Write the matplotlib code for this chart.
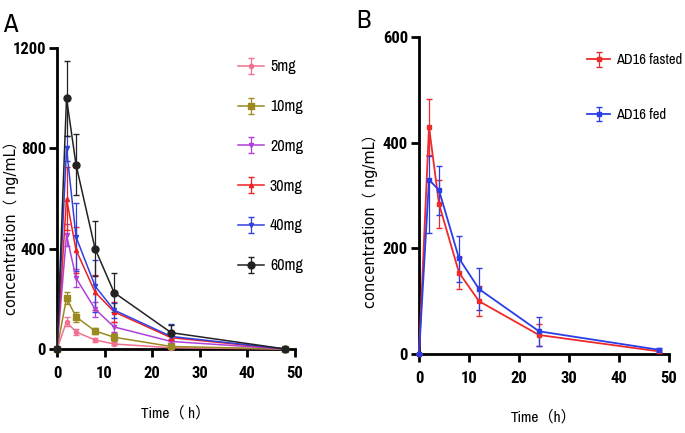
import numpy as np
import matplotlib.pyplot as plt

# time points (h)
t = [0, 2, 4, 8, 12, 24, 48]

# panel A: dose groups, mean / sd (ng/mL)
doses = ["5mg", "10mg", "20mg", "30mg", "40mg", "60mg"]
mean_5 = [0, 108, 68, 36, 20, 5, 0]
sd_5 = [0, 18, 12, 8, 6, 3, 0]
mean_10 = [0, 203, 128, 72, 47, 10, 0]
sd_10 = [0, 25, 20, 12, 15, 4, 0]
mean_20 = [0, 455, 283, 159, 88, 30, 0]
sd_20 = [0, 45, 37, 30, 20, 8, 0]
mean_30 = [0, 600, 395, 227, 148, 45, 0]
sd_30 = [0, 125, 90, 70, 40, 12, 0]
mean_40 = [0, 800, 447, 251, 155, 50, 0]
sd_40 = [0, 50, 135, 105, 30, 50, 0]
mean_60 = [0, 1000, 735, 400, 225, 65, 0]
sd_60 = [0, 150, 122, 110, 78, 30, 0]

# panel B: fasted vs fed
cond = ["AD16 fasted", "AD16 fed"]
mean_fasted = [0, 430, 284, 154, 100, 36, 5]
sd_fasted = [0, 53, 46, 30, 28, 20, 3]
mean_fed = [0, 330, 310, 181, 123, 43, 8]
err_fed_lo = [0, 100, 46, 44, 40, 27, 4]
err_fed_hi = [0, 45, 46, 43, 40, 27, 4]

NARROW = ["Roboto Condensed", "DejaVu Sans"]
LEG = ["Archivo Narrow", "Roboto Condensed", "DejaVu Sans"]
XLAB = ["Archivo Narrow", "Noto Sans CJK SC", "DejaVu Sans"]
YLAB = ["DejaVu Sans", "Noto Sans CJK SC"]

fig = plt.figure(figsize=(6.85, 4.33), dpi=100)
axA = fig.add_axes([0.0832, 0.194, 0.3474, 0.695])
axB = fig.add_axes([0.6117, 0.1824, 0.365, 0.732])


def style(ax, ymax, ystep):
    for s in ["top", "right"]:
        ax.spines[s].set_visible(False)
    for s in ["left", "bottom"]:
        ax.spines[s].set_linewidth(2)
    ax.set_xlim(0, 50)
    ax.set_ylim(0, ymax)
    ax.set_xticks(range(0, 51, 10))
    ax.set_yticks(range(0, ymax + 1, ystep))
    ax.tick_params(direction="out", length=6, width=2, pad=2)
    ax.tick_params(axis="x", pad=6)
    for lb in ax.get_xticklabels() + ax.get_yticklabels():
        lb.set_family(NARROW)
        lb.set_fontweight("bold")
        lb.set_fontsize(12)


# ---- panel A
series_A = [
    (mean_5, sd_5, "#f07090", "o", 3),
    (mean_10, sd_10, "#9a8a20", "s", 4),
    (mean_20, sd_20, "#b040d8", "v", 3),
    (mean_30, sd_30, "#ee2020", "^", 3),
    (mean_40, sd_40, "#3040e0", "v", 3),
    (mean_60, sd_60, "#222222", "o", 5),
]
for (m, sd, c, mk, ms), lab in zip(series_A, doses):
    axA.errorbar(t, m, yerr=sd, color=c, marker=mk, markersize=ms,
                 linewidth=1.1, elinewidth=0.9, capsize=2.5, label=lab,
                 clip_on=False, zorder=3)
style(axA, 1200, 400)
axA.set_xlabel("Time（ h）", family=XLAB, fontsize=11)
axA.xaxis.set_label_coords(0.5, -0.19)
axA.set_ylabel("concentration（ ng/mL）", family=YLAB, fontsize=10.5)
axA.yaxis.set_label_coords(-0.16, 0.415)
axA.legend(loc="upper left", bbox_to_anchor=(0.70, 1.01), frameon=False,
           labelspacing=1.55, handlelength=1.6, handletextpad=0.4,
           prop={"family": LEG, "size": 11.5})
fig.text(0.005, 0.925, "A", fontsize=19, family=LEG)

# ---- panel B
axB.errorbar(t, mean_fasted, yerr=sd_fasted, color="#ee2a2a", marker="s",
             markersize=3.5, linewidth=1.3, elinewidth=0.9, capsize=2.5,
             label=cond[0], clip_on=False, zorder=3)
axB.errorbar(t, mean_fed, yerr=[err_fed_lo, err_fed_hi], color="#2a3ee8",
             marker="s", markersize=3.5, linewidth=1.3, elinewidth=0.9,
             capsize=2.5, label=cond[1], clip_on=False, zorder=3)
style(axB, 600, 200)
axB.set_xlabel("Time（h）", family=XLAB, fontsize=11)
axB.xaxis.set_label_coords(0.5, -0.175)
axB.set_ylabel("concentration（ ng/mL）", family=YLAB, fontsize=10.5)
axB.yaxis.set_label_coords(-0.165, 0.43)
axB.legend(loc="upper left", bbox_to_anchor=(0.62, 0.99), frameon=False,
           labelspacing=2.8, handlelength=1.6, handletextpad=0.4,
           prop={"family": LEG, "size": 10.5})
fig.text(0.52, 0.935, "B", fontsize=19, family=LEG)

fig.savefig("out.png", dpi=100)
